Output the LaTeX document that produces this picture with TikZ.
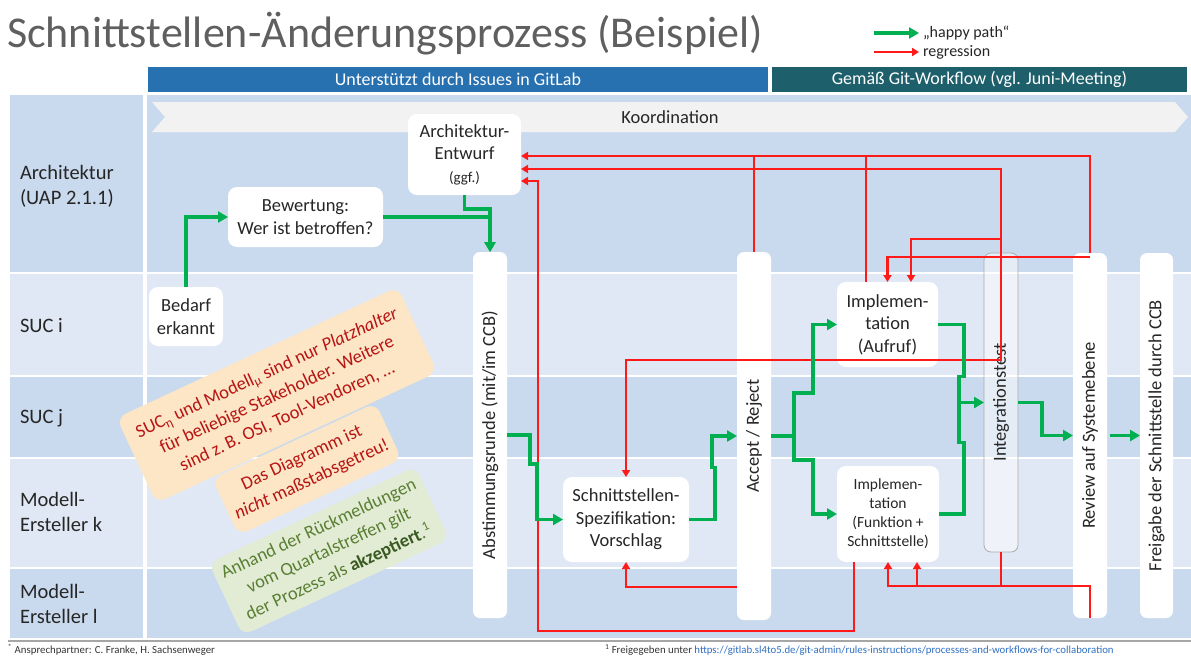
\documentclass[tikz,border=0pt]{standalone}
\usepackage{fontspec}
\setmainfont{Carlito}
\usetikzlibrary{arrows.meta,calc}

\definecolor{laneDark}{HTML}{CADAEE}
\definecolor{laneLight}{HTML}{DFE8F4}
\definecolor{hdrBlue}{HTML}{2771B1}
\definecolor{hdrTeal}{HTML}{1E5F6C}
\definecolor{happy}{HTML}{00B050}
\definecolor{regr}{HTML}{FF1A1A}
\definecolor{titleGray}{HTML}{5F5F5F}
\definecolor{noteOrange}{HTML}{FCE6C6}
\definecolor{noteGreen}{HTML}{E2ECD5}
\definecolor{noteRed}{HTML}{B81414}
\definecolor{noteGreenText}{HTML}{5A7F33}
\definecolor{noteGreenBold}{HTML}{3A5A22}
\definecolor{chevronGray}{HTML}{F2F2F2}
\definecolor{linkBlue}{HTML}{2F6FC0}

\tikzset{
  lanelabel/.style={anchor=west, align=left, font=\fontsize{20.5}{25}\selectfont, text=black!85},
  procbox/.style={fill=white, rounded corners=9pt, align=center, font=\fontsize{18.5}{22.5}\selectfont, text=black!85},
  phasebar/.style={fill=white, rounded corners=7pt, minimum width=34pt},
  bartext/.style={rotate=90, font=\fontsize{18.5}{22}\selectfont, text=black!85},
  happyline/.style={draw=happy, line width=3.5pt},
  happyarrow/.style={happyline, -{Triangle[length=10pt,width=11pt]}},
  regrline/.style={draw=regr, line width=2.1pt},
  regrarrow/.style={regrline, -{Triangle[length=7pt,width=8pt]}},
  headerbar/.style={text=white, minimum height=25pt, font=\fontsize{18}{20}\selectfont},
  notebox/.style={rounded corners=10pt, align=center, rotate=25, font=\fontsize{18.5}{24}\selectfont},
}

\begin{document}
\begin{tikzpicture}[x=1pt, y=-1pt, every node/.style={inner sep=0pt, outer sep=0pt}]
\useasboundingbox (0,0) rectangle (1191,656);

% title and legend
\node[anchor=base west, font=\fontsize{44}{50}\selectfont, text=titleGray] (title) at (7,47) {Schnittstellen-Änderungsprozess (Beispiel)};
\node[anchor=west, font=\fontsize{16}{18}\selectfont, text=black!85] (lgHappy) at (923,33) {„happy path“};
\node[anchor=west, font=\fontsize{16}{18}\selectfont, text=black!85] (lgRegr) at (923,52) {regression};
\coordinate (lgHappyStart) at (874,33);
\coordinate (lgRegrStart) at (874,52);
\draw[happyarrow, shorten >=4pt] (lgHappyStart) -- (lgHappy.west);
\draw[regrarrow, shorten >=4pt] (lgRegrStart) -- (lgRegr.west);

% header bars
\node[headerbar, fill=hdrBlue, minimum width=620pt] (hdrIssues) at (458,79.5) {Unterstützt durch Issues in GitLab};
\node[headerbar, fill=hdrTeal, minimum width=415pt] (hdrGit) at (979.5,79.5) {Gemäß Git-Workflow (vgl. Juni-Meeting)};

% swim lanes
\fill[laneDark]  (10,95)  rectangle (143,272);
\fill[laneDark]  (147,95) rectangle (1191,272);
\fill[laneLight] (10,274) rectangle (143,375);
\fill[laneLight] (147,274) rectangle (1191,375);
\fill[laneDark]  (10,377) rectangle (143,457);
\fill[laneDark]  (147,377) rectangle (1191,457);
\fill[laneLight] (10,459) rectangle (143,567);
\fill[laneLight] (147,459) rectangle (1191,567);
\fill[laneDark]  (10,569) rectangle (143,638);
\fill[laneDark]  (147,569) rectangle (1191,638);

\node[lanelabel] (lArch) at (20,186) {Architektur\\(UAP 2.1.1)};
\node[lanelabel] (lSucI) at (20,326) {SUC i};
\node[lanelabel] (lSucJ) at (20,418) {SUC j};
\node[lanelabel] (lModK) at (20,512) {Modell-\\Ersteller k};
\node[lanelabel] (lModL) at (20,604) {Modell-\\Ersteller l};

% coordination chevron
\fill[chevronGray] (152,102) -- (1175,102) -- (1188,117) -- (1175,132) -- (152,132) -- (165,117) -- cycle;
\node[font=\fontsize{18.5}{22}\selectfont, text=black!85] (koord) at (670,117) {Koordination};

% notes
\node[notebox, fill=noteOrange, text=noteRed, minimum width=310pt, minimum height=94pt] (noteA) at (277,395)
  {SUC\textsubscript{η} und Modell\textsubscript{μ} sind nur \textit{Platzhalter}\\für beliebige Stakeholder. Weitere\\sind z.\,B. OSI, Tool-Vendoren, …};
\node[notebox, fill=noteOrange, text=noteRed, minimum width=180pt, minimum height=62pt] (noteB) at (307,469)
  {Das Diagramm ist\\\textit{nicht} maßstabsgetreu!};
\node[notebox, fill=noteGreen, text=noteGreenText, minimum width=228pt, minimum height=80pt] (noteC) at (329,551)
  {Anhand der Rückmeldungen\\vom Quartalstreffen gilt\\der Prozess als \textbf{\color{noteGreenBold}akzeptiert}.\textsuperscript{1}};

% phase bars
\node[phasebar, minimum height=366pt] (abst) at (490,435) {};
\node[bartext] (abstT) at (abst.center) {Abstimmungsrunde (mit/im CCB)};
\node[phasebar, minimum height=368pt] (acc) at (754,436) {};
\node[bartext] (accT) at (acc.center) {Accept / Reject};
\node[phasebar, minimum height=299pt, fill opacity=0.5, draw=gray!65, line width=0.8pt] (integ) at (1001,402.5) {};
\node[bartext] (integT) at (integ.center) {Integrationstest};
\node[phasebar, minimum height=365pt] (rev) at (1090,435.5) {};
\node[bartext] (revT) at (rev.center) {Review auf Systemebene};
\node[phasebar, minimum width=33pt, minimum height=365pt] (frei) at (1156.5,435.5) {};
\node[bartext] (freiT) at (frei.center) {Freigabe der Schnittstelle durch CCB};

% process steps
\node[procbox, minimum width=74pt, minimum height=59pt] (bed) at (186,316.5) {Bedarf\\erkannt};
\node[procbox, minimum width=155pt, minimum height=60pt] (bew) at (305.5,217) {Bewertung:\\Wer ist betroffen?};
\node[procbox, minimum width=113pt, minimum height=81pt] (entw) at (464.5,154.5)
  {Architektur-\\Entwurf\\{\fontsize{15}{18}\selectfont(ggf.)}};
\node[procbox, minimum width=126pt, minimum height=85pt] (spez) at (626,519.5) {Schnittstellen-\\Spezifikation:\\Vorschlag};
\node[procbox, minimum width=101pt, minimum height=85pt] (impA) at (887.5,324.5) {Implemen-\\tation\\(Aufruf)};
\node[procbox, minimum width=102pt, minimum height=96pt, font=\fontsize{15.5}{19}\selectfont] (impF) at (888,514)
  {Implemen-\\tation\\(Funktion +\\Schnittstelle)};

% regressions
\draw[regrarrow] (rev.north) |- (entw.east |- 0,156);
\draw[regrline] (acc.north) -- (acc.north |- 0,156);
\draw[regrline] ($(impA.north)+(-21.5,0)$) -- ($(impA.north |- 0,156)+(-21.5,0)$);
\draw[regrarrow] ($(rev.north)+(0,4)$) -| (impA.north);
\draw[regrarrow] (integ.north) |- (entw.east |- 0,169);
\draw[regrarrow] (integ.north |- 0,239) -| ($(impA.north)+(23.5,0)$);
\draw[regrarrow] (integ.north) -- (integ.north |- 0,360) -| (spez.north);
\draw[regrarrow] ($(impF.south)+(-34,0)$) |- (538,631) |- (entw.east |- 0,181);
\draw[regrarrow] (acc.west |- 0,587) -| (spez.south);
\draw[regrarrow] (rev.south) |- (impF.south |- 0,586) -- (impF.south);
\draw[regrarrow] ($(impF.south |- 0,586)+(29,0)$) -- ($(impF.south)+(29,0)$);
\draw[regrline] (integ.south) -- (integ.south |- 0,586);

% happy path
\draw[happyarrow] (bed.north) |- (bew.west);
\draw[happyarrow] (bew.east) -| (abst.north);
\draw[happyarrow] (entw.south) -- ++(0,14) -| (abst.north);
\draw[happyarrow] (abst.east) -- ++(23,0) -- ++(0,29) -- ++(7,0) |- (spez.west);
\draw[happyarrow] (spez.east) -- ++(26,0) -- ++(0,-52) -- ++(-3,0) |- (acc.west);
\coordinate (fork) at ($(acc.east)+(23,0)$);
\draw[happyline] (acc.east) -- (fork);
\draw[happyarrow] (fork) -- ++(0,-43) -- ++(19,0) |- (impA.west);
\draw[happyarrow] (fork) -- ++(0,24) -- ++(19,0) |- (impF.west);
\draw[happyline] (impA.east) -- ++(26,0) -- ++(0,52) -- ++(-5,0) -- ++(0,66) -- ++(5,0) |- (impF.east);
\draw[happyarrow] (integ.west -| 959,0) -- (integ.west);
\draw[happyarrow] (integ.east) -- ++(24,0) |- (rev.west);
\draw[happyarrow, shorten <=3pt] (rev.east) -- (frei.west);

% footer
\draw[gray!70, line width=1.5pt] (8,641) -- (1191,641);
\node[anchor=base west, font=\fontsize{10.8}{12}\selectfont, text=black!80] (footA) at (8,653.5)
  {\textsuperscript{*} Ansprechpartner: C. Franke, H. Sachsenweger};
\node[anchor=base west, font=\fontsize{10.8}{12}\selectfont, text=black!80] (footB) at (605,653.5)
  {\textsuperscript{1} Freigegeben unter \textcolor{linkBlue}{https://gitlab.sl4to5.de/git-admin/rules-instructions/processes-and-workflows-for-collaboration}};
\end{tikzpicture}
\end{document}
